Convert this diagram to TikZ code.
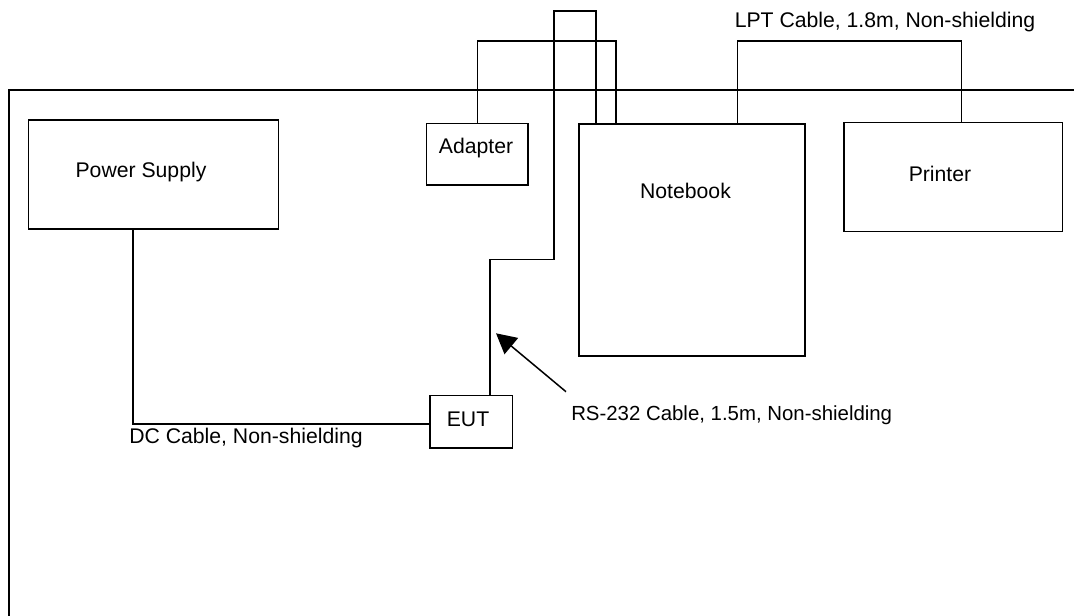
\documentclass[tikz,border=0pt]{standalone}
\usepackage{fontspec}
\setmainfont{Liberation Sans}
\usetikzlibrary{arrows.meta}
\begin{document}
\begin{tikzpicture}[x=1pt,y=-1pt,
  box/.style={draw,line width=1.6pt,inner sep=0pt,anchor=north west},
  lbl/.style={inner sep=0pt,font=\fontsize{21.2}{25}\selectfont},
  cable/.style={line width=1.5pt}]
\path[use as bounding box] (0,0) rectangle (1074,616);
% table outline
\draw[line width=1.9pt] (1074,90) -- (9,90) -- (9,616);
% boxes
\node[box,minimum width=250pt,minimum height=109pt] (ps) at (27.7,119.3) {};
\node[box,minimum width=101.6pt,minimum height=61.3pt] (ad) at (425.7,122.7) {};
\node[box,minimum width=226pt,minimum height=231.7pt] (nb) at (578.3,123.3) {};
\node[box,minimum width=218.4pt,minimum height=109pt] (pr) at (843.3,121.7) {};
\node[box,minimum width=82.4pt,minimum height=52.6pt] (eut) at (429.3,394.7) {};
% box texts
\node[lbl] (pst) at (141,172) {Power Supply};
\node[lbl] (adt) at (476,148) {Adapter};
\node[lbl] (nbt) at (685.5,191) {Notebook};
\node[lbl] (prt) at (940,174) {Printer};
\node[lbl] (eutt) at (468,419) {EUT};
% cables
\draw[cable] ([xshift=-20.7pt]ps.south) |- ([yshift=-2pt]eut.west);
\draw[cable] ([xshift=18.8pt]eut.north) |- (554,259.3) |- (596,11) -- ([xshift=17.7pt]nb.north west);
\draw[cable] (ad.north) |- (616,41) -- ([xshift=37.7pt]nb.north west);
\draw[cable] ([xshift=159.4pt]nb.north west) |- (961.7,41) -- ([xshift=118.4pt]pr.north west);
% cable labels
\node[lbl] (lpt) at (885,22) {LPT Cable, 1.8m, Non-shielding};
\node[lbl,font=\fontsize{20.4}{24}\selectfont] (rs) at (731.7,415) {RS-232 Cable, 1.5m, Non-shielding};
\node[lbl] (dc) at (246,438) {DC Cable, Non-shielding};
% arrow
\coordinate (tail) at (566,391.7);
\coordinate (tip) at (496,333.3);
\draw[line width=1.5pt,-{Triangle[length=20pt,width=21pt]}] (tail) -- (tip);
\end{tikzpicture}
\end{document}
